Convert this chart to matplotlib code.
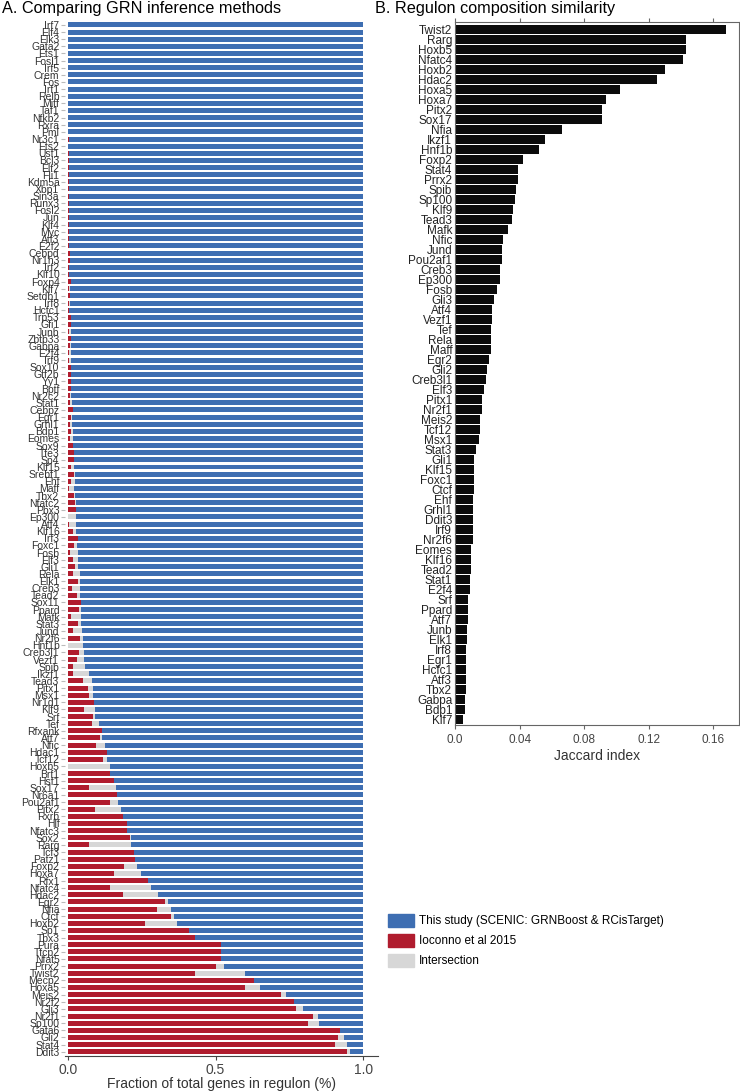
import numpy as np
import matplotlib.pyplot as plt
from matplotlib.patches import Patch

plt.rcParams['font.family'] = ['Liberation Sans', 'DejaVu Sans']

# A. regulons, top to bottom
tfs = ["Irf7", "Elf4", "Elk3", "Gata2", "Ets1", "Fosl1", "Irf5", "Crem", "Fos", "Irf1",
       "Relb", "Mitf", "Taf1", "Nfkb2", "Rxra", "Pml", "Nr3c1", "Ets2", "Usf1", "Bcl3",
       "Elf2", "Fli1", "Kdm5a", "Xbp1", "Sin3a", "Runx3", "Fosl2", "Jun", "Klf4", "Myc",
       "Atf3", "E2f2", "Cebpd", "Nr1h3", "Irf2", "Klf10", "Foxp4", "Klf7", "Setdb1", "Irf8",
       "Hcfc1", "Trp53", "Gfi1", "Junb", "Zbtb33", "Gabpa", "E2f4", "Irf9", "Sox10", "Gtf2b",
       "Yy1", "Bptf", "Nr2c2", "Stat1", "Cebpz", "Egr1", "Grhl1", "Bdp1", "Eomes", "Sox9",
       "Tfe3", "Sp4", "Klf15", "Srebf1", "Ehf", "Maff", "Tbx2", "Nfatc2", "Pbx3", "Ep300",
       "Atf4", "Klf16", "Irf3", "Foxc1", "Fosb", "Elf3", "Gli1", "Rela", "Elk1", "Creb3",
       "Tead2", "Sox11", "Ppard", "Mafk", "Stat3", "Jund", "Nr2f6", "Hnf1b", "Creb3l1", "Vezf1",
       "Spib", "Ikzf1", "Tead3", "Pitx1", "Msx1", "Nr1d1", "Klf9", "Srf", "Tef", "Rfxank",
       "Atf7", "Nfic", "Hdac1", "Tcf12", "Hoxb5", "Brf1", "Hsf1", "Sox17", "Nr6a1", "Pou2af1",
       "Pitx2", "Rxrb", "Hlf", "Nfatc3", "Sox2", "Rarg", "Tcf3", "Patz1", "Foxp2", "Hoxa7",
       "Rfx1", "Nfatc4", "Hdac2", "Egr2", "Nfia", "Ctcf", "Hoxb2", "Sp1", "Tbx3", "Pura",
       "Tfcp2", "Nfat5", "Prrx2", "Twist2", "Mecp2", "Hoxa5", "Meis2", "Nr2f2", "Gli3", "Nr2f1",
       "Sp100", "Gata6", "Gli2", "Stat4", "Ddit3"]

# fraction of genes only in Ioconno et al 2015
ioconno = [0, 0, 0, 0, 0, 0, 0, 0, 0, 0,
           0, 0, 0, 0, 0, 0, 0.002, 0, 0.004, 0.003,
           0.004, 0.002, 0.002, 0.002, 0.004, 0.003, 0.003, 0.004, 0.004, 0.005,
           0.003, 0.004, 0.006, 0.006, 0.004, 0.004, 0.009, 0.004, 0.008, 0.004,
           0.004, 0.009, 0.011, 0.005, 0.010, 0.006, 0.005, 0.002, 0.012, 0.012,
           0.012, 0.012, 0.008, 0.006, 0.016, 0.009, 0.008, 0.009, 0.006, 0.018,
           0.019, 0.021, 0.009, 0.019, 0.012, 0.005, 0.021, 0.023, 0.026, 0.001,
           0.003, 0.017, 0.033, 0.020, 0.006, 0.016, 0.024, 0.017, 0.033, 0.014,
           0.032, 0.043, 0.036, 0.011, 0.034, 0.018, 0.041, 0.001, 0.036, 0.032,
           0.018, 0.018, 0.050, 0.067, 0.071, 0.087, 0.056, 0.085, 0.082, 0.115,
           0.108, 0.096, 0.132, 0.119, 0.001, 0.141, 0.155, 0.071, 0.165, 0.142,
           0.092, 0.185, 0.199, 0.199, 0.210, 0.071, 0.224, 0.228, 0.190, 0.155,
           0.271, 0.141, 0.186, 0.330, 0.300, 0.350, 0.260, 0.410, 0.430, 0.520,
           0.520, 0.520, 0.500, 0.430, 0.630, 0.600, 0.723, 0.767, 0.772, 0.830,
           0.814, 0.921, 0.915, 0.906, 0.946]

# fraction of genes found by both
intersection = [0, 0, 0, 0, 0, 0, 0, 0, 0, 0,
                0, 0, 0, 0, 0, 0, 0, 0, 0, 0,
                0, 0, 0, 0, 0, 0, 0, 0, 0, 0,
                0.002, 0, 0, 0, 0, 0, 0, 0.002, 0, 0.004,
                0, 0, 0, 0.005, 0, 0.004, 0.005, 0.010, 0, 0,
                0, 0, 0.004, 0.009, 0, 0.006, 0.007, 0.007, 0.011, 0,
                0, 0, 0.012, 0.005, 0.012, 0.016, 0.003, 0.003, 0, 0.026,
                0.024, 0.010, 0, 0.011, 0.027, 0.018, 0.010, 0.023, 0.007, 0.027,
                0.009, 0, 0.007, 0.033, 0.011, 0.028, 0.009, 0.051, 0.017, 0.023,
                0.040, 0.055, 0.031, 0.017, 0.014, 0.001, 0.037, 0.008, 0.022, 0.001,
                0.006, 0.028, 0, 0.014, 0.140, 0, 0, 0.091, 0, 0.027,
                0.089, 0, 0, 0, 0.002, 0.141, 0, 0, 0.043, 0.094,
                0, 0.141, 0.120, 0.010, 0.050, 0.010, 0.110, 0, 0, 0,
                0, 0, 0.030, 0.170, 0, 0.050, 0.014, 0, 0.023, 0.018,
                0.036, 0, 0.020, 0.039, 0.009]

# B. Jaccard index per regulon
jac_tfs = ["Twist2", "Rarg", "Hoxb5", "Nfatc4", "Hoxb2", "Hdac2", "Hoxa5", "Hoxa7", "Pitx2", "Sox17",
           "Nfia", "Ikzf1", "Hnf1b", "Foxp2", "Stat4", "Prrx2", "Spib", "Sp100", "Klf9", "Tead3",
           "Mafk", "Nfic", "Jund", "Pou2af1", "Creb3", "Ep300", "Fosb", "Gli3", "Atf4", "Vezf1",
           "Tef", "Rela", "Maff", "Egr2", "Gli2", "Creb3l1", "Elf3", "Pitx1", "Nr2f1", "Meis2",
           "Tcf12", "Msx1", "Stat3", "Gli1", "Klf15", "Foxc1", "Ctcf", "Ehf", "Grhl1", "Ddit3",
           "Irf9", "Nr2f6", "Eomes", "Klf16", "Tead2", "Stat1", "E2f4", "Srf", "Ppard", "Atf7",
           "Junb", "Elk1", "Irf8", "Egr1", "Hcfc1", "Atf3", "Tbx2", "Gabpa", "Bdp1", "Klf7"]
jaccard = [0.168, 0.143, 0.143, 0.141, 0.130, 0.125, 0.1025, 0.0936, 0.091, 0.091,
           0.066, 0.056, 0.052, 0.042, 0.039, 0.039, 0.038, 0.037, 0.036, 0.035,
           0.033, 0.030, 0.029, 0.029, 0.028, 0.028, 0.026, 0.024, 0.023, 0.023,
           0.022, 0.022, 0.022, 0.021, 0.020, 0.019, 0.018, 0.017, 0.017, 0.0155,
           0.0155, 0.015, 0.013, 0.012, 0.012, 0.012, 0.0115, 0.011, 0.011, 0.011,
           0.011, 0.011, 0.010, 0.010, 0.010, 0.0095, 0.009, 0.008, 0.008, 0.008,
           0.0075, 0.0075, 0.007, 0.007, 0.007, 0.0065, 0.0065, 0.006, 0.006, 0.005]

blue = '#3e6eb2'
red = '#b01c2e'
grey = '#d7d7d7'

fig = plt.figure(figsize=(7.4, 10.91), dpi=100)

# ---- panel A ----
ax = fig.add_axes([0.0878, 0.0324, 0.423, 0.9484])
y = np.arange(len(tfs))
red_v = np.array(ioconno)
grey_v = np.array(intersection)
blue_v = 1 - red_v - grey_v
ax.barh(y, red_v, height=0.7, color=red)
ax.barh(y, grey_v, left=red_v, height=0.7, color=grey)
ax.barh(y, blue_v, left=red_v + grey_v, height=0.7, color=blue)
ax.set_ylim(len(tfs) - 0.44, -0.56)
ax.set_xlim(-0.01, 1.05)
ax.set_yticks(y)
ax.set_yticklabels(tfs, fontsize=7.5, color='#333333')
ax.tick_params(axis='y', length=3, color='#bbbbbb', pad=1)
ax.set_xticks([0, 0.5, 1.0])
ax.set_xticklabels(['0.0', '0.5', '1.0'], fontsize=10, color='#444444')
ax.tick_params(axis='x', length=3, pad=2, color='#444444')
for s in ['top', 'right', 'left']:
    ax.spines[s].set_visible(False)
ax.spines['bottom'].set_color('#444444')
ax.set_xlabel('Fraction of total genes in regulon (%)', fontsize=10, color='#333333', labelpad=0)
fig.text(0.003, 0.999, 'A. Comparing GRN inference methods', fontsize=11.7, va='top')

handles = [Patch(color=blue, label='This study (SCENIC: GRNBoost & RCisTarget)'),
           Patch(color=red, label='Ioconno et al 2015'),
           Patch(color=grey, label='Intersection')]
fig.legend(handles=handles, loc='upper left', bbox_to_anchor=(0.51, 0.172), frameon=False,
           fontsize=8.5, handlelength=2.2, handleheight=1.3, labelspacing=0.55, handletextpad=0.4)

# ---- panel B ----
bx = fig.add_axes([0.6149, 0.3351, 0.3838, 0.645])
yb = np.arange(len(jac_tfs))
bx.barh(yb, jaccard, height=0.85, color='#0b0b0b')
bx.set_ylim(len(jac_tfs) - 0.4, -0.77)
bx.set_xlim(0, 0.176)
bx.set_yticks(yb)
bx.set_yticklabels(jac_tfs, fontsize=8.5, color='#222222')
bx.tick_params(axis='y', length=0, pad=2)
bx.set_xticks([0, 0.04, 0.08, 0.12, 0.16])
bx.set_xticklabels(['0.0', '0.04', '0.08', '0.12', '0.16'], fontsize=8.5, color='#444444')
bx.tick_params(axis='x', top=True, length=3, color='#666666')
for s in bx.spines.values():
    s.set_color('#666666')
    s.set_linewidth(0.8)
bx.set_xlabel('Jaccard index', fontsize=10, color='#333333', labelpad=2)
fig.text(0.507, 0.999, 'B. Regulon composition similarity', fontsize=11.7, va='top')

fig.savefig('out.png', dpi=100)
